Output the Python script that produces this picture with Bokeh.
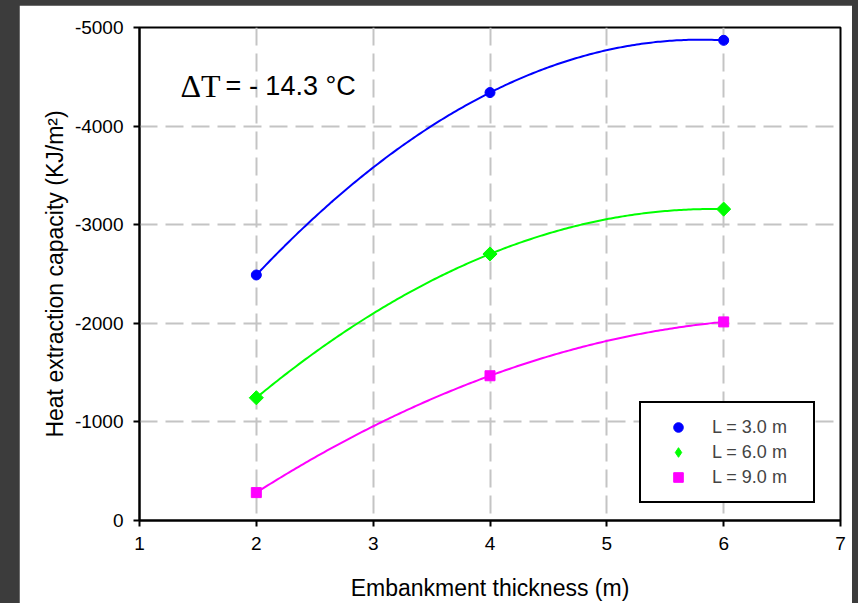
import numpy as np
from bokeh.plotting import figure
from bokeh.models import Range1d, FixedTicker, Legend, LegendItem, Label, Spacer
from bokeh.layouts import row, column
from bokeh.embed import file_html
from bokeh.resources import INLINE

thickness = [2, 4, 6]
heat_L3 = [-2490, -4340, -4870]
heat_L6 = [-1245, -2703, -3158]
heat_L9 = [-283, -1468, -2014]
series_labels = ["L = 3.0 m", "L = 6.0 m", "L = 9.0 m"]
x_ticks = [1, 2, 3, 4, 5, 6, 7]
y_ticks = [0, -1000, -2000, -3000, -4000, -5000]
y_tick_labels = ["0", "-1000", "-2000", "-3000", "-4000", "-5000"]

FONT = "Liberation Sans"

p = figure(width=833, height=598, output_backend="svg", toolbar_location=None,
           x_range=Range1d(1, 7), y_range=Range1d(0, -5000),
           min_border_left=120, min_border_right=12, min_border_top=22, min_border_bottom=82)
p.border_fill_color = "white"
p.background_fill_color = "white"
p.outline_line_color = "black"
p.outline_line_width = 2
p.outline_line_alpha = 1.0

for ax in (p.xaxis[0], p.yaxis[0]):
    ax.axis_line_width = 2
    ax.major_tick_line_width = 2
    ax.major_tick_out = 6
    ax.major_tick_in = 0
    ax.minor_tick_line_color = None
    ax.major_label_text_font = FONT
    ax.major_label_text_font_size = "19px"
    ax.major_label_text_color = "black"
    ax.axis_label_text_font = FONT
    ax.axis_label_text_font_size = "23px"
    ax.axis_label_text_font_style = "normal"
    ax.axis_label_text_color = "black"

p.xaxis.ticker = FixedTicker(ticks=x_ticks)
p.yaxis.ticker = FixedTicker(ticks=y_ticks)
p.yaxis.major_label_overrides = {t: s for t, s in zip(y_ticks, y_tick_labels)}
p.xaxis.axis_label = "Embankment thickness (m)"
p.yaxis.axis_label = "Heat extraction capacity (KJ/m²)"
p.xaxis.major_label_standoff = 10
p.yaxis.major_label_standoff = 10
p.xaxis.axis_label_standoff = 22
p.yaxis.axis_label_standoff = 4

for g in (p.xgrid[0], p.ygrid[0]):
    g.grid_line_color = "#c4c4c4"
    g.grid_line_width = 2
    g.grid_line_dash = "18 8"

colors = ["#0000ff", "#00ff00", "#ff00ff"]
markers = ["circle", "square", "square"]
legend_markers = ["circle", "diamond", "square"]
angles = [0.0, np.pi / 4, 0.0]
sizes = [10, 10, 10]
xs = np.linspace(min(thickness), max(thickness), 200)
items = []
for ys, c, m, lm, a, s, lab in zip([heat_L3, heat_L6, heat_L9], colors, markers, legend_markers,
                                    angles, sizes, series_labels):
    coef = np.polyfit(thickness, ys, 2)
    p.line(xs, np.polyval(coef, xs), line_color=c, line_width=2)
    r = p.scatter(thickness, ys, marker=m, angle=a, size=s, fill_color=c, line_color=c)
    if lm != m:
        # hidden copy used only for the legend symbol (legend glyphs are never rotated)
        r = p.scatter(thickness, ys, marker=lm, size=s, fill_color=c, line_color=c, visible=False)
    items.append(LegendItem(label=lab, renderers=[r]))

legend = Legend(items=items, location=(500, 17), padding=12, glyph_width=50, glyph_height=24,
                label_standoff=9, label_width=89, label_height=20, spacing=1,
                label_text_font=FONT, label_text_font_size="18px",
                border_line_color="black", border_line_width=2, border_line_alpha=1.0,
                background_fill_alpha=1.0, margin=0)
p.add_layout(legend, "center")

p.add_layout(Label(x=1.35, y=-4410, text="ΔT", text_font="Liberation Serif",
                   text_font_size="32px", text_baseline="alphabetic", text_color="black"))
p.add_layout(Label(x=1.737, y=-4410, text="= - 14.3 °C", text_font=FONT,
                   text_font_size="27px", text_baseline="alphabetic", text_color="black"))

layout = column(Spacer(width=852, height=5), row(Spacer(width=19, height=598), p))
html = file_html(layout, INLINE)
html = html.replace("</head>", "<style>html, body { background: #3c3c3c; }</style></head>", 1)
open("out.html", "w").write(html)
